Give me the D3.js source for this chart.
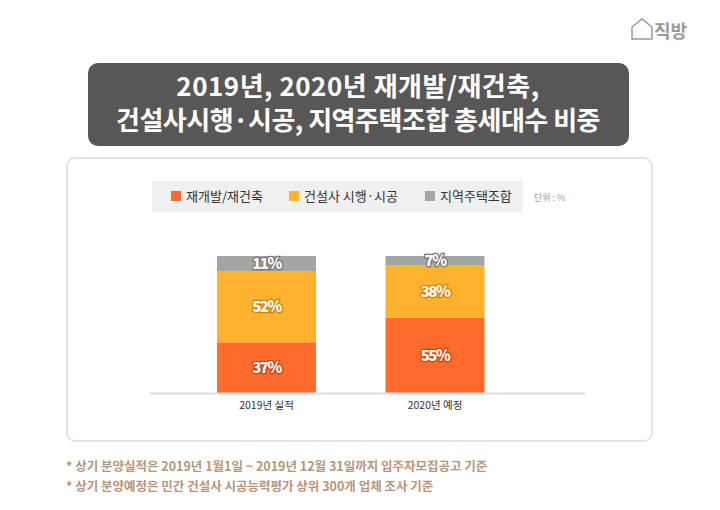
<!DOCTYPE html>
<html><head><meta charset="utf-8">
<script src="https://cdn.jsdelivr.net/npm/d3@7"></script>
<style>body{margin:0;background:#fff;font-family:"Noto Sans CJK KR","Noto Sans",sans-serif;}</style>
</head><body><svg id="c" width="720" height="510"></svg>
<script>
"use strict";
const svg = d3.select("#c");
const font = "Noto Sans CJK KR";

// data (%)
const series = [
    {key: "redev", name: "재개발/재건축", color: "#ff6b2c", stroke: "#c94510"},
    {key: "builder", name: "건설사 시행·시공", color: "#ffb22e", stroke: "#d08410"},
    {key: "local", name: "지역주택조합", color: "#a5a5a5", stroke: "#777"}
];
const data = [
    {year: "2019년 실적", redev: 37, builder: 52, local: 11},
    {year: "2020년 예정", redev: 55, builder: 38, local: 7}
];

// logo
svg.append("text").attr("x", 654).attr("y", 38).attr("font-family", font).attr("font-weight", 700)
    .attr("font-size", 18).attr("fill", "#999").text("직방");
svg.append("path").attr("d", "M632,39 L632,27 L642,19 L652,27 L652,39 Z").attr("fill", "none").attr("stroke", "#999").attr("stroke-width", 1.5);

// title
svg.append("rect").attr("x", 88).attr("y", 63).attr("width", 541).attr("height", 83).attr("rx", 10).attr("fill", "#575757");
[["2019년, 2020년 재개발/재건축,", 0.5], ["건설사시행·시공, 지역주택조합 총세대수 비중", -0.5]].forEach(([t, ls], i) => {
    svg.append("text").attr("x", 358).attr("y", 96 + i * 34).attr("text-anchor", "middle")
        .attr("font-family", font).attr("font-weight", 700).attr("font-size", 26).attr("letter-spacing", ls)
        .attr("fill", "#fff").text(t);
});

// card
svg.append("rect").attr("x", 67).attr("y", 158).attr("width", 585).attr("height", 283).attr("rx", 8)
    .attr("fill", "#fff").attr("stroke", "#e4e4e4").attr("stroke-width", 2);

// legend
svg.append("rect").attr("x", 152).attr("y", 181).attr("width", 371).attr("height", 31).attr("fill", "#f0f0f0");
const lx = [171, 289, 425];
series.forEach((s, i) => {
    svg.append("rect").attr("x", lx[i]).attr("y", 191).attr("width", 10).attr("height", 10).attr("fill", s.color);
    svg.append("text").attr("x", lx[i] + 15).attr("y", 201).attr("font-family", font).attr("font-size", 13)
        .attr("fill", "#333").text(s.name);
});
svg.append("text").attr("x", 534).attr("y", 201).attr("font-family", font).attr("font-size", 9)
    .attr("fill", "#999").text("단위 : %");

// scales
const x = d3.scaleBand().domain(data.map(d => d.year)).range([147.5, 554]).paddingInner(0.4125).paddingOuter(0.4125);
const y = d3.scaleLinear().domain([0, 100]).range([393, 256]);
const stack = d3.stack().keys(series.map(s => s.key))(data);

stack.forEach((layer, i) => {
    const s = series[i];
    const g = svg.append("g");
    g.selectAll("rect").data(layer).join("rect")
        .attr("x", d => x(d.data.year)).attr("width", x.bandwidth())
        .attr("y", d => y(d[1])).attr("height", d => y(d[0]) - y(d[1]))
        .attr("fill", s.color);
    g.selectAll("text").data(layer).join("text")
        .attr("x", d => x(d.data.year) + x.bandwidth() / 2)
        .attr("y", d => (y(d[0]) + y(d[1])) / 2 + 5.5)
        .attr("text-anchor", "middle").attr("font-family", font).attr("font-weight", 900)
        .attr("font-size", 15).attr("letter-spacing", -1.5)
        .attr("fill", "#fff").attr("stroke", s.stroke).attr("stroke-width", 2.5).attr("paint-order", "stroke")
        .text(d => (d[1] - d[0]) + "%");
});

// axis
const ax = svg.append("g").attr("transform", "translate(0,393)")
    .call(d3.axisBottom(x).tickSize(0).tickPadding(9));
ax.select(".domain").attr("d", "M150,0.5H585").attr("stroke", "#ddd").attr("stroke-width", 2);
ax.selectAll("text").attr("font-family", font).attr("font-size", 10.5).attr("fill", "#333");

// notes
["* 상기 분양실적은 2019년 1월1일 ~ 2019년 12월 31일까지 입주자모집공고 기준",
 "* 상기 분양예정은 민간 건설사 시공능력평가 상위 300개 업체 조사 기준"].forEach((t, i) => {
    svg.append("text").attr("x", 66).attr("y", 471 + i * 20).attr("font-family", font).attr("font-weight", 700)
        .attr("font-size", 12.5).attr("fill", "#b89478").text(t);
});
</script></body></html>
